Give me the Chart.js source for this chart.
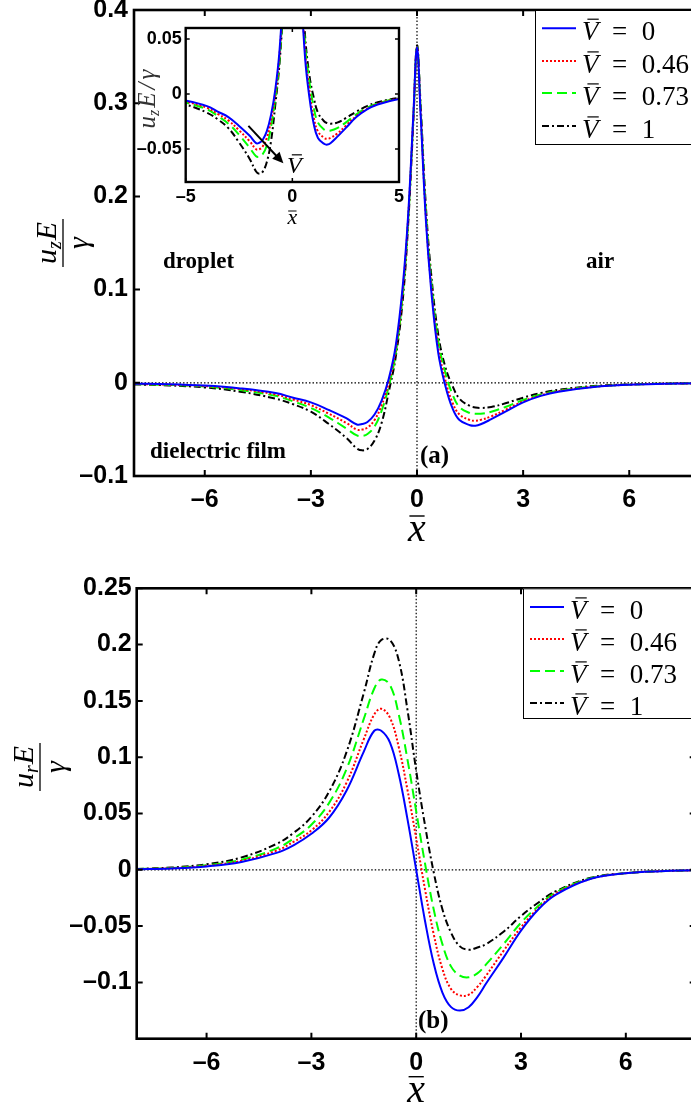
<!DOCTYPE html>
<html>
<head>
<meta charset="utf-8">
<script src="https://cdn.jsdelivr.net/npm/chart.js@4.4.0/dist/chart.umd.min.js"></script>
<style>
  html, body { margin: 0; padding: 0; background: #fff; overflow: hidden; }
  #wrap { position: relative; width: 691px; height: 1110px; overflow: hidden; background: #fff; }
  canvas { position: absolute; }
</style>
</head>
<body>
<div id="wrap">
  <canvas id="chartA" width="720" height="545" style="left:0;top:0"></canvas>
  <canvas id="chartB" width="720" height="555" style="left:0;top:555px"></canvas>
  <canvas id="chartIn" width="320" height="240" style="left:100px;top:0"></canvas>
</div>
<script>
// ---- data ----
const vbarLabels = ['0', '0.46', '0.73', '1'];

// panel (a): u_z E / gamma
const xA = [-8, -7, -6, -5, -4, -3.5, -3, -2.5, -2, -1.7, -1.55, -1.4, -1.2, -1, -0.8, -0.6, -0.4, -0.25, -0.1, 0,
            0.1, 0.25, 0.4, 0.6, 0.8, 1, 1.2, 1.5, 1.65, 1.8, 2.1, 2.5, 3, 3.5, 4, 5, 6, 7, 8];
const uzV0  = [-0.001, -0.0015, -0.003, -0.006, -0.011, -0.016, -0.021, -0.029, -0.038, -0.0447, -0.0443, -0.042, -0.034, -0.019, 0.004, 0.040, 0.105, 0.18, 0.29, 0.36,
               0.29, 0.175, 0.10, 0.032, -0.003, -0.027, -0.040, -0.0455, -0.046, -0.0445, -0.039, -0.031, -0.021, -0.014, -0.0095, -0.0045, -0.002, -0.001, -0.0005];
const uzV46 = [-0.0012, -0.002, -0.0035, -0.0068, -0.0125, -0.018, -0.024, -0.033, -0.043, -0.0502, -0.0502, -0.048, -0.040, -0.024, 0.0, 0.036, 0.10, 0.177, 0.288, 0.36,
               0.292, 0.18, 0.105, 0.038, 0.003, -0.021, -0.034, -0.040, -0.0407, -0.0398, -0.036, -0.029, -0.020, -0.0135, -0.009, -0.0043, -0.002, -0.001, -0.0005];
const uzV73 = [-0.0014, -0.0023, -0.004, -0.0078, -0.014, -0.020, -0.027, -0.037, -0.049, -0.0565, -0.057, -0.055, -0.047, -0.030, -0.004, 0.032, 0.096, 0.174, 0.286, 0.36,
               0.295, 0.185, 0.11, 0.045, 0.011, -0.012, -0.026, -0.0325, -0.0332, -0.0332, -0.031, -0.026, -0.0185, -0.0125, -0.0085, -0.004, -0.002, -0.001, -0.0005];
const uzV1  = [-0.0017, -0.0028, -0.005, -0.0095, -0.017, -0.023, -0.031, -0.044, -0.059, -0.0705, -0.0725, -0.071, -0.062, -0.043, -0.010, 0.028, 0.09, 0.17, 0.283, 0.362,
               0.30, 0.19, 0.117, 0.052, 0.017, -0.003, -0.017, -0.025, -0.0265, -0.027, -0.026, -0.022, -0.016, -0.011, -0.0075, -0.0035, -0.0018, -0.0009, -0.0004];

// panel (b): u_r E / gamma
const xB = [-8, -7, -6, -5, -4, -3.5, -3, -2.5, -2, -1.5, -1.2, -1, -0.75, -0.5, -0.25, 0,
            0.25, 0.5, 0.75, 1, 1.25, 1.5, 1.75, 2, 2.5, 3, 3.5, 4, 5, 6, 7, 8];
const urV0  = [0.0005, 0.0012, 0.003, 0.007, 0.015, 0.022, 0.032, 0.046, 0.07, 0.105, 0.1235, 0.1235, 0.113, 0.085, 0.045, 0.000,
               -0.045, -0.083, -0.109, -0.122, -0.125, -0.122, -0.113, -0.101, -0.078, -0.054, -0.035, -0.022, -0.008, -0.003, -0.0012, -0.0005];
const urV46 = [0.0006, 0.0014, 0.0035, 0.008, 0.017, 0.025, 0.035, 0.051, 0.077, 0.116, 0.138, 0.143, 0.135, 0.109, 0.071, 0.028,
               -0.017, -0.057, -0.088, -0.106, -0.1115, -0.111, -0.104, -0.094, -0.072, -0.051, -0.034, -0.021, -0.008, -0.003, -0.0012, -0.0005];
const urV73 = [0.0007, 0.0016, 0.004, 0.009, 0.019, 0.028, 0.040, 0.059, 0.089, 0.134, 0.161, 0.169, 0.164, 0.138, 0.098, 0.052,
               0.006, -0.035, -0.066, -0.086, -0.094, -0.0955, -0.092, -0.084, -0.066, -0.047, -0.032, -0.020, -0.0075, -0.003, -0.0012, -0.0005];
const urV1  = [0.0008, 0.002, 0.005, 0.011, 0.023, 0.033, 0.047, 0.069, 0.104, 0.157, 0.192, 0.204, 0.204, 0.186, 0.142, 0.088,
               0.04, -0.002, -0.035, -0.056, -0.068, -0.071, -0.069, -0.066, -0.055, -0.041, -0.029, -0.019, -0.007, -0.003, -0.0012, -0.0005];

// tick values
const xTicksMain = [-6, -3, 0, 3, 6];
const yTicksA = [0.4, 0.3, 0.2, 0.1, 0, -0.1];
const yTicksB = [0.25, 0.2, 0.15, 0.1, 0.05, 0, -0.05, -0.1];
const xTicksIn = [-5, 0, 5];
const yTicksIn = [0.05, 0, -0.05];

const lineStyles = [
  { color: '#0000ff', dash: [] },
  { color: '#ff0000', dash: [2, 2] },
  { color: '#00ff00', dash: [10, 5] },
  { color: '#000000', dash: [7, 3, 2, 3] }
];

const SANS = "'Liberation Sans', Arial, sans-serif";
const SERIF = "'Liberation Serif', 'Times New Roman', serif";

function fmt(v) {
  return v < 0 ? '\u2013' + String(-v) : String(v);
}

function seriesSet(xs, list) {
  return list.map((ys, i) => ({
    label: vbarLabels[i],
    data: xs.map((x, k) => ({ x: x, y: ys[k] })),
    borderColor: lineStyles[i].color,
    borderDash: lineStyles[i].dash,
    borderWidth: 2,
    pointRadius: 0,
    fill: false,
    tension: 0.4
  }));
}

function zeroPad(s) {
  s.paddingLeft = 0; s.paddingRight = 0; s.paddingTop = 0; s.paddingBottom = 0;
}

function axes(o) {
  return {
    x: {
      type: 'linear', min: o.xmin, max: o.xmax,
      grid: { display: false, drawTicks: false }, border: { display: false },
      afterBuildTicks: s => { s.ticks = o.xt.map(v => ({ value: v })); },
      afterFit: s => { s.height = o.xh; zeroPad(s); },
      ticks: { font: { family: SANS, weight: 'bold', size: o.fs }, color: '#000', padding: o.xpad,
               maxRotation: 0, autoSkip: false, callback: v => fmt(v) }
    },
    y: {
      type: 'linear', min: o.ymin, max: o.ymax,
      grid: { display: false, drawTicks: false }, border: { display: false },
      afterBuildTicks: s => { s.ticks = o.yt.map(v => ({ value: v })); },
      afterFit: s => { s.width = o.yw; zeroPad(s); },
      ticks: { font: { family: SANS, weight: 'bold', size: o.fs }, color: '#000', padding: o.ypad,
               autoSkip: false, callback: v => fmt(v) }
    }
  };
}

// frame, inward ticks, dotted zero lines
function framePlugin(cfg) {
  return {
    id: 'frame',
    beforeDraw(chart) {
      if (!cfg.fill) return;
      const { ctx, chartArea: a } = chart;
      ctx.save();
      ctx.fillStyle = '#fff';
      ctx.fillRect(a.left, a.top, a.right - a.left, a.bottom - a.top);
      ctx.restore();
    },
    beforeDatasetsDraw(chart) {
      if (!cfg.zero) return;
      const { ctx, chartArea: a, scales: { x, y } } = chart;
      const px = x.getPixelForValue(0), py = y.getPixelForValue(0);
      ctx.save();
      ctx.strokeStyle = '#000';
      ctx.lineWidth = 1.2;
      ctx.setLineDash([1.5, 2]);
      ctx.beginPath();
      ctx.moveTo(px, a.top); ctx.lineTo(px, a.bottom);
      ctx.moveTo(a.left, py); ctx.lineTo(a.right, py);
      ctx.stroke();
      ctx.restore();
    },
    afterDraw(chart) {
      const { ctx, chartArea: a, scales: { x, y } } = chart;
      ctx.save();
      ctx.strokeStyle = '#000';
      ctx.lineWidth = cfg.tw;
      ctx.beginPath();
      x.ticks.forEach(t => {
        const p = x.getPixelForValue(t.value);
        ctx.moveTo(p, a.bottom); ctx.lineTo(p, a.bottom - cfg.tl);
        ctx.moveTo(p, a.top); ctx.lineTo(p, a.top + cfg.tl);
      });
      y.ticks.forEach(t => {
        const p = y.getPixelForValue(t.value);
        ctx.moveTo(a.left, p); ctx.lineTo(a.left + cfg.tl, p);
        ctx.moveTo(a.right, p); ctx.lineTo(a.right - cfg.tl, p);
      });
      ctx.stroke();
      ctx.lineWidth = cfg.lw;
      ctx.strokeRect(a.left, a.top, a.right - a.left, a.bottom - a.top);
      ctx.restore();
    }
  };
}

// V with a bar, optionally followed by "= value"
function vbarText(ctx, x, y, val, size) {
  ctx.save();
  ctx.fillStyle = '#000'; ctx.strokeStyle = '#000';
  ctx.textBaseline = 'alphabetic'; ctx.textAlign = 'left';
  ctx.font = 'italic ' + size + 'px ' + SERIF;
  ctx.fillText('V', x, y);
  const wv = ctx.measureText('V').width;
  ctx.lineWidth = 1.2;
  ctx.beginPath();
  ctx.moveTo(x + size * 0.2, y - size * 0.77);
  ctx.lineTo(x + size * 0.62, y - size * 0.77);
  ctx.stroke();
  if (val !== null) {
    ctx.font = size + 'px ' + SERIF;
    ctx.fillText('=', x + wv + size * 0.5, y);
    ctx.fillText(val, x + wv + size * 1.6, y);
  }
  ctx.restore();
}

// x with a bar
function xbarText(ctx, cx, base, size, gap) {
  ctx.save();
  ctx.fillStyle = '#000'; ctx.strokeStyle = '#000';
  ctx.textBaseline = 'alphabetic'; ctx.textAlign = 'center';
  ctx.font = 'italic ' + size + 'px ' + SERIF;
  ctx.fillText('x', cx, base);
  ctx.lineWidth = Math.max(1, size / 28);
  ctx.beginPath();
  ctx.moveTo(cx - size * 0.19, base - gap);
  ctx.lineTo(cx + size * 0.19, base - gap);
  ctx.stroke();
  ctx.restore();
}

// rotated fraction  u_sub E / gamma
function fracLabel(ctx, cx, cy, sub) {
  ctx.save();
  ctx.translate(cx, cy);
  ctx.rotate(-Math.PI / 2);
  ctx.fillStyle = '#000'; ctx.strokeStyle = '#000';
  ctx.textBaseline = 'alphabetic'; ctx.textAlign = 'left';
  const big = 'italic 30px ' + SERIF, small = 'italic 20px ' + SERIF;
  ctx.font = big;
  const wu = ctx.measureText('u').width, wE = ctx.measureText('E').width;
  ctx.font = small;
  const wz = ctx.measureText(sub).width;
  const x0 = -(wu + wz + wE + 1) / 2;
  ctx.font = big; ctx.fillText('u', x0, -7);
  ctx.font = small; ctx.fillText(sub, x0 + wu, -2.5);
  ctx.font = big; ctx.fillText('E', x0 + wu + wz + 1, -7);
  ctx.lineWidth = 1.3;
  ctx.beginPath(); ctx.moveTo(-24, 0); ctx.lineTo(24, 0); ctx.stroke();
  ctx.textAlign = 'center';
  ctx.fillText('\u03b3', 0, 25);
  ctx.restore();
}

function drawLegend(chart, L) {
  const ctx = chart.ctx;
  ctx.save();
  ctx.fillStyle = '#fff';
  ctx.fillRect(L.left, L.top, L.right - L.left, L.bottom - L.top);
  ctx.strokeStyle = '#000'; ctx.lineWidth = 1;
  ctx.strokeRect(L.left + 0.5, L.top + 0.5, L.right - L.left, L.bottom - L.top);
  chart.data.datasets.forEach((ds, i) => {
    const ly = L.rows[i];
    ctx.save();
    ctx.strokeStyle = ds.borderColor; ctx.lineWidth = 2;
    ctx.setLineDash(ds.borderDash);
    ctx.beginPath(); ctx.moveTo(L.x0, ly); ctx.lineTo(L.x1, ly); ctx.stroke();
    ctx.restore();
    vbarText(ctx, L.tx, ly + 11.7, ds.label, 27);
  });
  ctx.restore();
}

function textAt(ctx, s, x, y, font) {
  ctx.save();
  ctx.fillStyle = '#000'; ctx.font = font;
  ctx.textAlign = 'left'; ctx.textBaseline = 'middle';
  ctx.fillText(s, x, y);
  ctx.restore();
}

const baseOpts = {
  responsive: false,
  animation: false,
  events: [],
  plugins: { legend: { display: false }, tooltip: { enabled: false } }
};

// ---- panel (a) ----
new Chart(document.getElementById('chartA'), {
  type: 'line',
  data: { datasets: seriesSet(xA, [uzV0, uzV46, uzV73, uzV1]) },
  options: Object.assign({}, baseOpts, {
    layout: { autoPadding: false, padding: { left: 0, top: 10, right: 20, bottom: 29 } },
    scales: axes({ xmin: -8, xmax: 8, xt: xTicksMain, ymin: -0.1, ymax: 0.4, yt: yTicksA,
                   fs: 25, xh: 40, yw: 134, xpad: 9, ypad: 6 })
  }),
  plugins: [framePlugin({ zero: true, tl: 6, tw: 2, lw: 2.6 }), {
    id: 'notesA',
    afterDraw(chart) {
      const ctx = chart.ctx;
      const bold = 'bold 23px ' + SERIF;
      textAt(ctx, 'droplet', 163, 262, bold);
      textAt(ctx, 'air', 586, 262, bold);
      textAt(ctx, 'dielectric film', 150, 452, bold);
      textAt(ctx, '(a)', 420, 457, 'bold 25px ' + SERIF);
      fracLabel(ctx, 63, 243, 'z');
      xbarText(ctx, chart.scales.x.getPixelForValue(0), 541, 40, 25);
      drawLegend(chart, { left: 535, top: 10, right: 730, bottom: 144,
                          x0: 542, x1: 576, tx: 582, rows: [28.3, 61, 93, 126] });
    }
  }]
});

// ---- inset of (a) ----
new Chart(document.getElementById('chartIn'), {
  type: 'line',
  data: { datasets: seriesSet(xA, [uzV0, uzV46, uzV73, uzV1]) },
  options: Object.assign({}, baseOpts, {
    layout: { autoPadding: false, padding: { left: 0, top: 28, right: 21, bottom: 28 } },
    scales: axes({ xmin: -5, xmax: 5, xt: xTicksIn, ymin: -0.08, ymax: 0.06, yt: yTicksIn,
                   fs: 18, xh: 30, yw: 85.7, xpad: 4, ypad: 4 })
  }),
  plugins: [framePlugin({ fill: true, zero: false, tl: 4, tw: 1.5, lw: 2.4 }), {
    id: 'notesIn',
    afterDraw(chart) {
      const ctx = chart.ctx, x = chart.scales.x, y = chart.scales.y;
      // arrow showing increasing V
      const x1 = x.getPixelForValue(-2.06), y1 = y.getPixelForValue(-0.029);
      const x2 = x.getPixelForValue(-0.42), y2 = y.getPixelForValue(-0.063);
      const ang = Math.atan2(y2 - y1, x2 - x1);
      ctx.save();
      ctx.strokeStyle = '#000'; ctx.fillStyle = '#000'; ctx.lineWidth = 2;
      ctx.beginPath(); ctx.moveTo(x1, y1);
      ctx.lineTo(x2 - 8 * Math.cos(ang), y2 - 8 * Math.sin(ang)); ctx.stroke();
      ctx.beginPath(); ctx.moveTo(x2, y2);
      ctx.lineTo(x2 - 11 * Math.cos(ang) + 5 * Math.sin(ang), y2 - 11 * Math.sin(ang) - 5 * Math.cos(ang));
      ctx.lineTo(x2 - 11 * Math.cos(ang) - 5 * Math.sin(ang), y2 - 11 * Math.sin(ang) + 5 * Math.cos(ang));
      ctx.closePath(); ctx.fill();
      ctx.restore();
      vbarText(ctx, x.getPixelForValue(-0.25), y.getPixelForValue(-0.0721), null, 24);
      xbarText(ctx, x.getPixelForValue(0), 224, 22, 13);
      // rotated y label u_z E / gamma
      ctx.save();
      ctx.translate(55, 99);
      ctx.rotate(-Math.PI / 2);
      ctx.fillStyle = '#333';
      ctx.textBaseline = 'alphabetic'; ctx.textAlign = 'left';
      const big = 'italic 25px ' + SERIF, small = 'italic 16px ' + SERIF;
      ctx.font = big; const wu = ctx.measureText('u').width; const wE = ctx.measureText('E').width;
      ctx.font = small; const wz = ctx.measureText('z').width;
      ctx.font = big; const ws = ctx.measureText('/').width, wg = ctx.measureText('\u03b3').width;
      let px = -(wu + wz + wE + ws + wg + 8) / 2;
      ctx.font = big; ctx.fillText('u', px, 0); px += wu;
      ctx.font = small; ctx.fillText('z', px, 4); px += wz + 2;
      ctx.font = big; ctx.fillText('E', px, 0); px += wE + 3;
      ctx.fillText('/', px, 0); px += ws + 3;
      ctx.fillText('\u03b3', px, 0);
      ctx.restore();
    }
  }]
});

// ---- panel (b) ----
new Chart(document.getElementById('chartB'), {
  type: 'line',
  data: { datasets: seriesSet(xB, [urV0, urV46, urV73, urV1]) },
  options: Object.assign({}, baseOpts, {
    layout: { autoPadding: false, padding: { left: 0, top: 33.3, right: 24.3, bottom: 31.3 } },
    scales: axes({ xmin: -8, xmax: 8, xt: xTicksMain, ymin: -0.15, ymax: 0.25, yt: yTicksB,
                   fs: 25, xh: 40, yw: 136.7, xpad: 9, ypad: 5 })
  }),
  plugins: [framePlugin({ zero: true, tl: 6, tw: 2, lw: 2.6 }), {
    id: 'notesB',
    afterDraw(chart) {
      const ctx = chart.ctx;
      textAt(ctx, '(b)', 418, 467, 'bold 25px ' + SERIF);
      fracLabel(ctx, 40, 212, 'r');
      xbarText(ctx, chart.scales.x.getPixelForValue(0), 546.7, 40, 25);
      drawLegend(chart, { left: 523, top: 33.3, right: 730, bottom: 163,
                          x0: 530, x1: 564, tx: 570, rows: [52, 84, 116, 148] });
    }
  }]
});
</script>
</body>
</html>
